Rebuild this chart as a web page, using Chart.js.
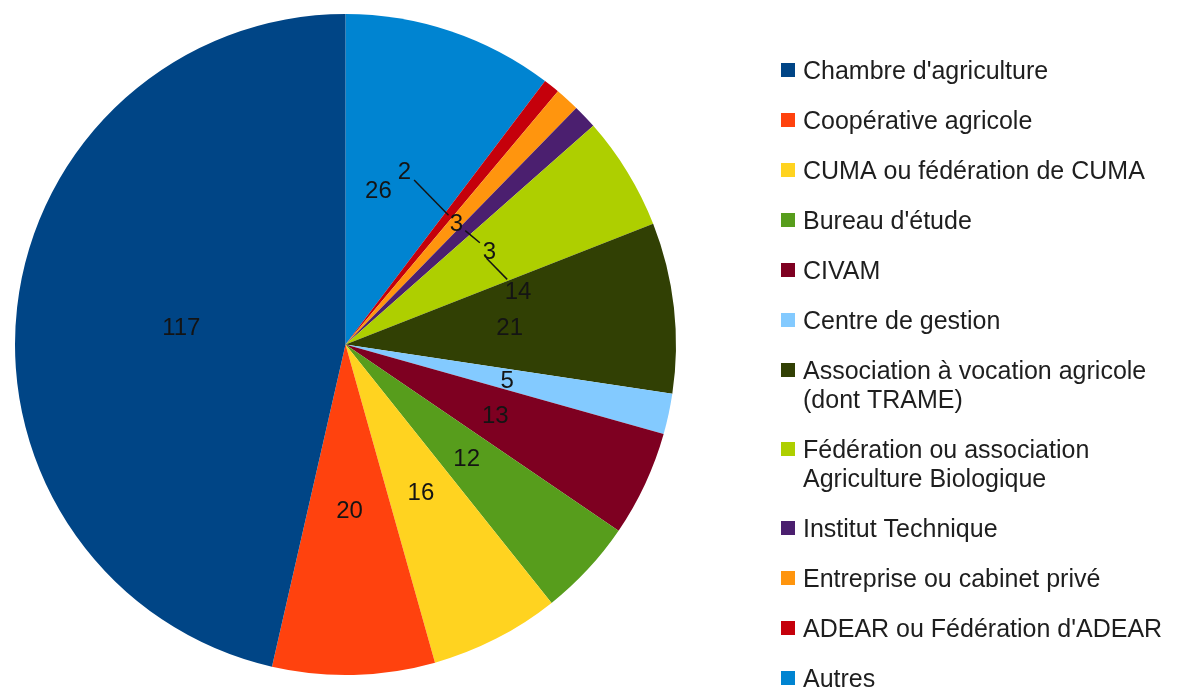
<!DOCTYPE html>
<html>
<head>
<meta charset="utf-8">
<script src="https://cdn.jsdelivr.net/npm/chart.js@4/dist/chart.umd.min.js"></script>
<style>
  body { margin: 0; background: #fff; }
  canvas { display: block; }
</style>
</head>
<body>
<canvas id="chartJSContainer" width="1179" height="690"></canvas>
<script>
// categories in legend order
var categories = [
  "Chambre d'agriculture",
  "Coopérative agricole",
  "CUMA ou fédération de CUMA",
  "Bureau d'étude",
  "CIVAM",
  "Centre de gestion",
  "Association à vocation agricole\n(dont TRAME)",
  "Fédération ou association\nAgriculture Biologique",
  "Institut Technique",
  "Entreprise ou cabinet privé",
  "ADEAR ou Fédération d'ADEAR",
  "Autres"
];
var counts = [117, 20, 16, 12, 13, 5, 21, 14, 3, 3, 2, 26];
var sliceColors = [
  '#004586', '#ff420e', '#ffd320', '#579d1c', '#7e0021', '#83caff',
  '#314004', '#aecf00', '#4b1f6f', '#ff950e', '#c5000b', '#0084d1'
];

// labels pushed aside so they do not overlap (angle shift in degrees, radius as part of R)
var labelNudges = {
  "Autres": { shift: -6.6, r: 0.48 },
  "ADEAR ou Fédération d'ADEAR": { shift: -19.9, r: 0.557, leader: true },
  "Institut Technique": { shift: 10.5, r: 0.52, leader: true },
  "Fédération ou association\nAgriculture Biologique": { shift: 14, r: 0.547, leader: true }
};

// the original pie turns counter-clockwise, chart.js turns clockwise : reverse
var pieLabels = categories.slice().reverse();
var pieValues = counts.slice().reverse();
var pieColors = sliceColors.slice().reverse();

var valueLabels = {
  id: 'valueLabels',
  afterDatasetsDraw: function(chart) {
    var ctx = chart.ctx;
    var meta = chart.getDatasetMeta(0);
    var values = chart.data.datasets[0].data;
    ctx.save();
    ctx.font = '24px "Liberation Sans", Arial, sans-serif';
    ctx.textAlign = 'center';
    ctx.textBaseline = 'middle';
    ctx.fillStyle = '#141414';
    ctx.strokeStyle = '#141414';
    ctx.lineWidth = 1.5;
    meta.data.forEach(function(arc, i) {
      var p = arc.getProps(['x', 'y', 'startAngle', 'endAngle', 'outerRadius'], true);
      var mid = (p.startAngle + p.endAngle) / 2;
      var ax = p.x + Math.cos(mid) * p.outerRadius * 0.5;
      var ay = p.y + Math.sin(mid) * p.outerRadius * 0.5;
      var n = labelNudges[chart.data.labels[i]] || { shift: 0, r: 0.5 };
      var a = mid + n.shift * Math.PI / 180;
      var lx = p.x + Math.cos(a) * p.outerRadius * n.r;
      var ly = p.y + Math.sin(a) * p.outerRadius * n.r;
      var txt = String(values[i]);
      if (n.leader) {
        var hw = ctx.measureText(txt).width / 2 + 3, hh = 11;
        var dx = ax - lx, dy = ay - ly;
        var t = Math.min(hw / Math.abs(dx), hh / Math.abs(dy));
        ctx.beginPath();
        ctx.moveTo(lx + dx * t, ly + dy * t);
        ctx.lineTo(ax, ay);
        ctx.stroke();
      }
      ctx.fillText(txt, lx, ly + 2);
    });
    ctx.restore();
  }
};

var sideLegend = {
  id: 'sideLegend',
  afterDraw: function(chart) {
    var ctx = chart.ctx;
    var x = 781;
    var y = 70;
    ctx.save();
    ctx.font = '25px "Liberation Sans", Arial, sans-serif';
    ctx.textBaseline = 'middle';
    categories.forEach(function(name, i) {
      var lines = name.split('\n');
      ctx.fillStyle = sliceColors[i];
      ctx.fillRect(x, y - 7, 14, 14);
      ctx.fillStyle = '#1e1e1e';
      lines.forEach(function(l, k) {
        ctx.fillText(l, x + 22, y + 2 + k * 29);
      });
      y += 50 + 29 * (lines.length - 1);
    });
    ctx.restore();
  }
};

var options = {
  type: 'pie',
  data: {
    labels: pieLabels,
    datasets: [{
      data: pieValues,
      backgroundColor: pieColors,
      borderWidth: 0
    }]
  },
  options: {
    responsive: false,
    animation: false,
    layout: { padding: { left: 15, top: 14, bottom: 15, right: 503 } },
    plugins: {
      legend: { display: false },
      tooltip: { enabled: false }
    }
  },
  plugins: [valueLabels, sideLegend]
};

var ctx = document.getElementById('chartJSContainer');
var myPieChart = new Chart(ctx, options);
</script>
</body>
</html>
